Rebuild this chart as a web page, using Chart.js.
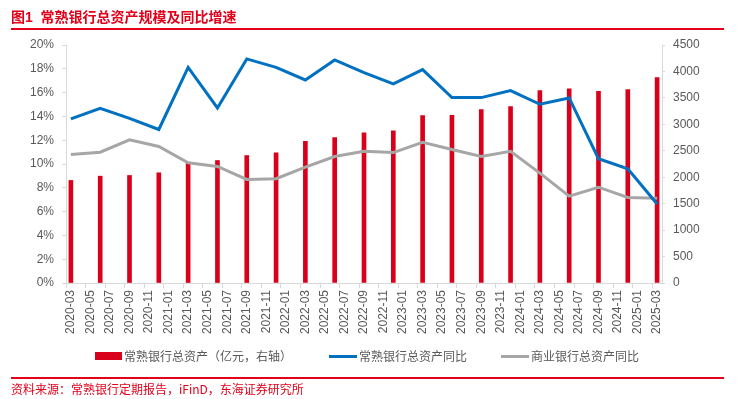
<!DOCTYPE html>
<html>
<head>
<meta charset="utf-8">
<script src="https://cdn.jsdelivr.net/npm/chart.js@4.4.1/dist/chart.umd.min.js"></script>
<style>
  html, body { margin: 0; padding: 0; background: #ffffff; }
  body { width: 742px; height: 399px; position: relative; overflow: hidden;
         font-family: "Liberation Sans", "Noto Sans CJK SC", sans-serif; }
  #c { position: absolute; left: 0; top: 0; }
  .title { position: absolute; left: 11px; top: 7px; font-size: 14px; font-weight: bold;
           color: #E2001A; font-family: "Liberation Sans", "Noto Sans CJK SC", sans-serif; white-space: pre; line-height: 20px; }
  .rule { position: absolute; left: 11px; width: 713px; height: 2px; background: #E2001A; }
  .src { position: absolute; left: 11px; top: 380px; font-size: 12px; color: #E2001A; line-height: 18px;
         font-family: "Noto Sans CJK SC", sans-serif; white-space: pre; }
  .lg { position: absolute; font-size: 12px; color: #595959; line-height: 16px; top: 348px;
        font-family: "Noto Sans CJK SC", sans-serif; white-space: pre; }
  .sw { position: absolute; }
</style>
</head>
<body>
<canvas id="c" width="742" height="399"></canvas>
<div class="title">图1  常熟银行总资产规模及同比增速</div>
<div class="rule" style="top:28px"></div>
<div class="sw" style="left:95px; top:352px; width:27px; height:8px; background:#D9001B"></div>
<div class="lg" style="left:124px">常熟银行总资产（亿元，右轴）</div>
<div class="sw" style="left:329px; top:355px; width:28px; height:3px; background:#0070C0"></div>
<div class="lg" style="left:359px">常熟银行总资产同比</div>
<div class="sw" style="left:501px; top:355px; width:28px; height:3px; background:#A6A6A6"></div>
<div class="lg" style="left:531px">商业银行总资产同比</div>
<div class="rule" style="top:377px"></div>
<div class="src">资料来源：常熟银行定期报告，iFinD，东海证券研究所</div>
<script>
// ---- data ----
const quarters = ['2020-03','2020-06','2020-09','2020-12','2021-03','2021-06','2021-09','2021-12',
                  '2022-03','2022-06','2022-09','2022-12','2023-03','2023-06','2023-09','2023-12',
                  '2024-03','2024-06','2024-09','2024-12','2025-03'];
// 常熟银行总资产（亿元）
const totalAssets = [1939, 2020, 2033, 2084, 2284, 2316, 2410, 2461, 2680, 2750, 2839,
                     2877, 3166, 3171, 3279, 3335, 3637, 3670, 3624, 3656, 3883];
// 常熟银行总资产同比（%）
const changshuYoY = [13.79, 14.68, 13.84, 12.9, 18.12, 14.71, 18.83, 18.12, 17.06, 18.74, 17.68,
                     16.73, 17.93, 15.58, 15.58, 16.17, 15.02, 15.55, 10.44, 9.6, 6.64];
// 商业银行总资产同比（%）
const commercialYoY = [10.8, 10.99, 12.03, 11.47, 10.1, 9.79, 8.7, 8.76, 9.73, 10.63, 11.07,
                       10.96, 11.83, 11.22, 10.63, 11.07, 9.23, 7.3, 8.05, 7.19, 7.13];
// axis ranges
const leftTicks = { min: 0, max: 20, step: 2 };
const rightTicks = { min: 0, max: 4500, step: 500 };
const firstMonth = '2020-03';
const lastMonth = '2025-03';

// ---- monthly category axis (labels every two months) ----
const months = [];
{
  let [y, m] = firstMonth.split('-').map(Number);
  const [ey, em] = lastMonth.split('-').map(Number);
  while (y < ey || (y === ey && m <= em)) {
    months.push(y + '-' + String(m).padStart(2, '0'));
    m++; if (m > 12) { m = 1; y++; }
  }
}
function toMonthly(values) {
  const out = months.map(() => null);
  quarters.forEach((q, i) => { out[months.indexOf(q)] = values[i]; });
  return out;
}

const AXIS = '#D9D9D9';
const TXT = '#595959';
const FONT = { family: '"Liberation Sans", "Noto Sans CJK SC", sans-serif', size: 12 };

new Chart(document.getElementById('c'), {
  data: {
    labels: months,
    datasets: [
      { type: 'line', label: '常熟银行总资产同比', data: toMonthly(changshuYoY), yAxisID: 'y',
        borderColor: '#0070C0', backgroundColor: '#0070C0', borderWidth: 3, pointRadius: 0,
        spanGaps: true, tension: 0, order: 0 },
      { type: 'line', label: '商业银行总资产同比', data: toMonthly(commercialYoY), yAxisID: 'y',
        borderColor: '#A6A6A6', backgroundColor: '#A6A6A6', borderWidth: 3, pointRadius: 0,
        spanGaps: true, tension: 0, order: 1 },
      { type: 'bar', label: '常熟银行总资产（亿元，右轴）', data: toMonthly(totalAssets), yAxisID: 'y1',
        backgroundColor: '#D9001B', barThickness: 4, order: 2 }
    ]
  },
  options: {
    responsive: false,
    animation: false,
    devicePixelRatio: 1,
    layout: { padding: { top: 45, left: 0, right: 0, bottom: 0 } },
    plugins: { legend: { display: false }, tooltip: { enabled: false }, title: { display: false } },
    scales: {
      x: {
        type: 'category',
        offset: true,
        grid: { display: true, drawOnChartArea: false, drawTicks: true, tickLength: 5, offset: true,
                color: AXIS,
                tickColor: (ctx) => (ctx.index % 2 === 0 ? AXIS : 'rgba(0,0,0,0)') },
        border: { color: AXIS, width: 1 },
        ticks: {
          autoSkip: false, maxRotation: 90, minRotation: 90, padding: 2, color: TXT, font: FONT,
          callback: function (v, i) { return i % 2 === 0 ? this.getLabelForValue(v) : ''; }
        },
        afterFit: (s) => { s.height = 116; }
      },
      y: {
        position: 'left',
        min: leftTicks.min, max: leftTicks.max,
        ticks: { stepSize: leftTicks.step, color: TXT, font: FONT, padding: 8,
                 callback: (v) => v + '%' },
        grid: { drawOnChartArea: false, tickLength: 4, color: AXIS },
        border: { color: AXIS, width: 1 },
        afterFit: (s) => { s.width = 66; }
      },
      y1: {
        position: 'right',
        min: rightTicks.min, max: rightTicks.max,
        ticks: { stepSize: rightTicks.step, color: TXT, font: FONT, padding: 8,
                 callback: (v) => String(v) },
        grid: { drawOnChartArea: false, tickLength: 3, color: AXIS },
        border: { color: AXIS, width: 1 },
        afterFit: (s) => { s.width = 80; }
      }
    }
  }
});
</script>
</body>
</html>
